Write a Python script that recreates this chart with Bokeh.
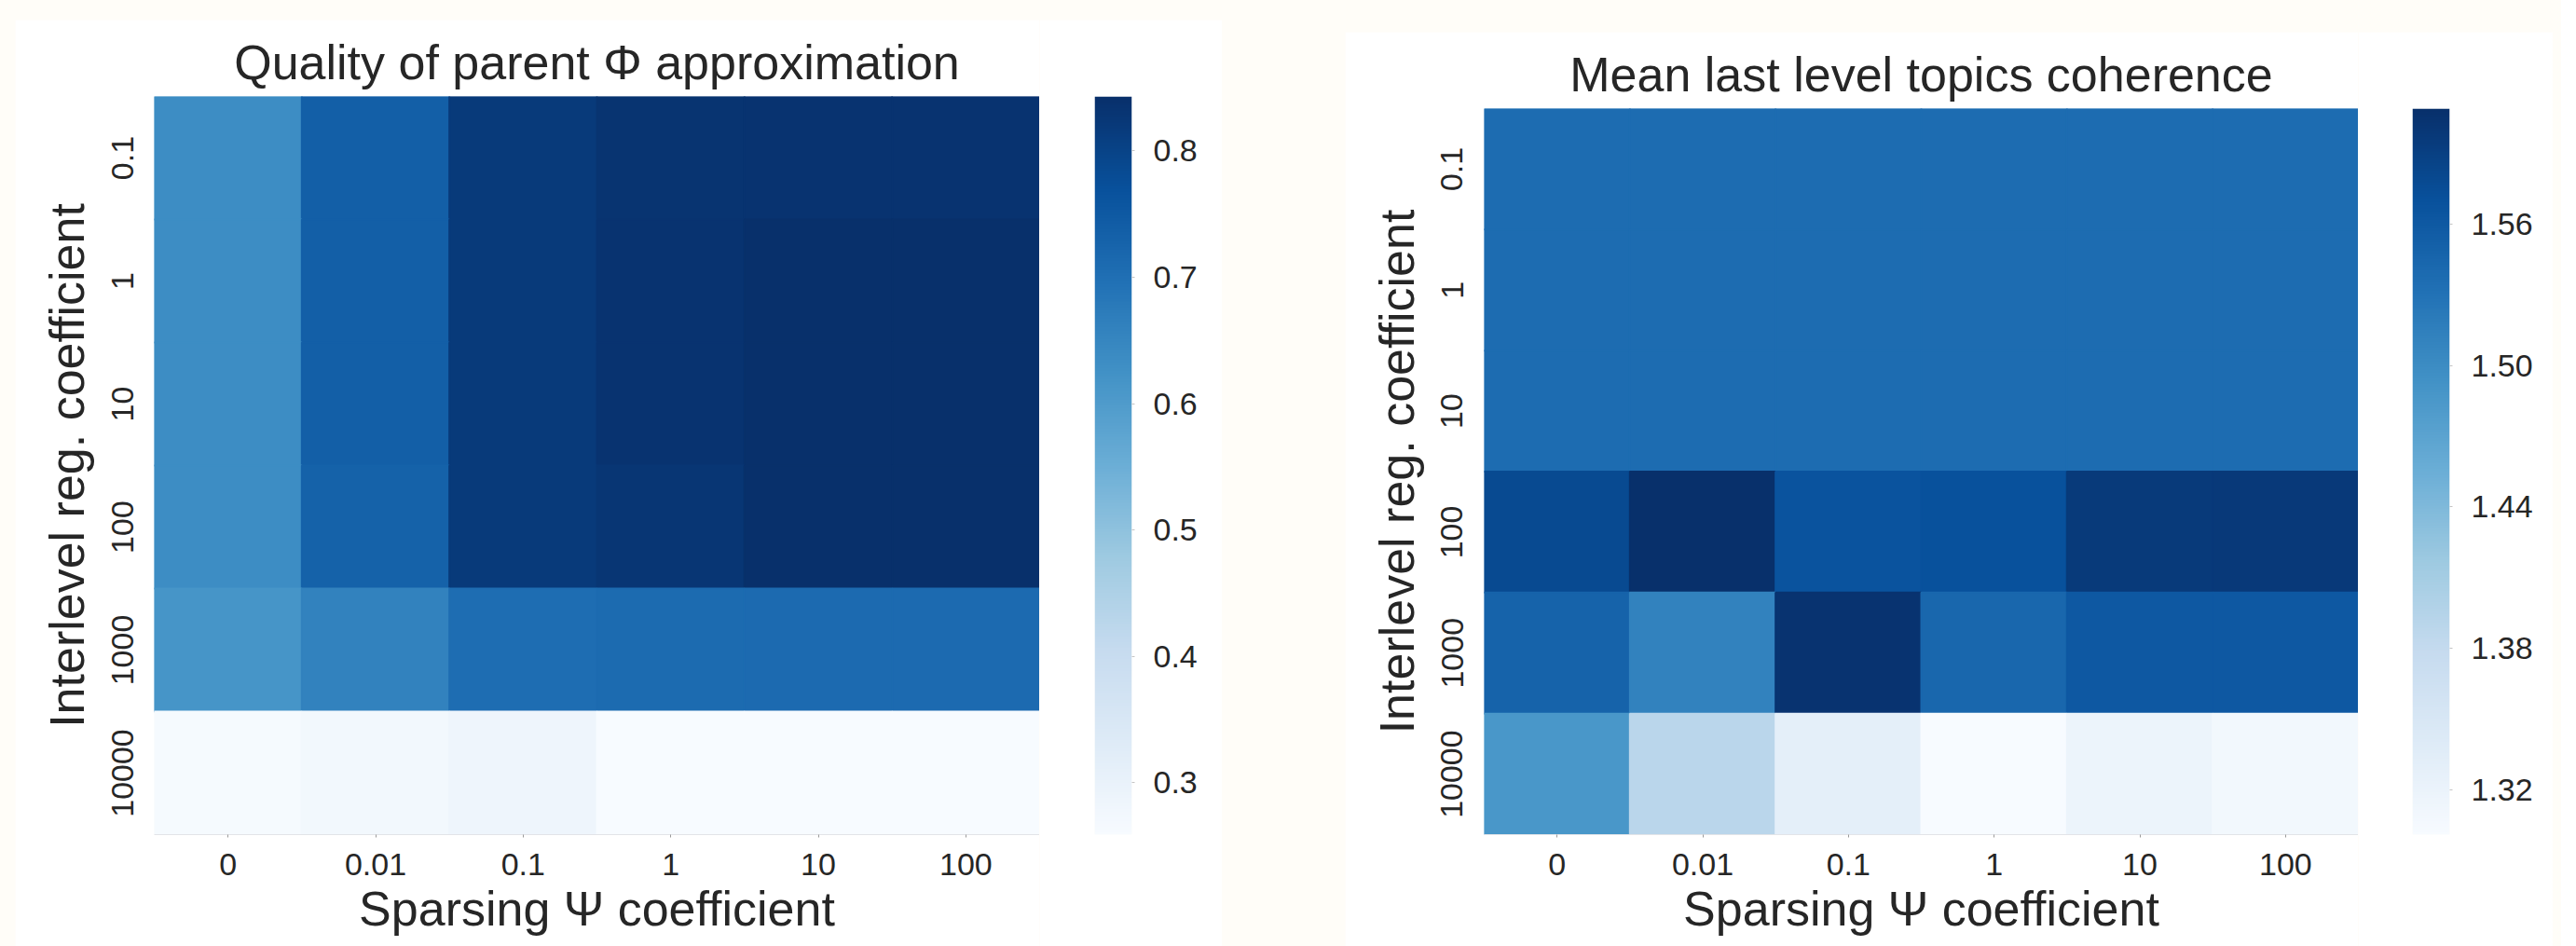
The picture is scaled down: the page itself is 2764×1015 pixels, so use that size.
import numpy as np
from bokeh.plotting import figure
from bokeh.models import (ColumnDataSource, LinearColorMapper, FixedTicker,
                          PrintfTickFormatter, Row, Range1d)
from bokeh.palettes import Blues256
from bokeh.embed import file_html
from bokeh.resources import INLINE

# ---------------- data ----------------
sparsing = ["0", "0.01", "0.1", "1", "10", "100"]
interlevel = ["0.1", "1", "10", "100", "1000", "10000"]

quality_r01 = [0.635, 0.736, 0.818, 0.833, 0.836, 0.836]
quality_r1 = [0.635, 0.736, 0.818, 0.835, 0.843, 0.843]
quality_r10 = [0.635, 0.737, 0.818, 0.835, 0.843, 0.843]
quality_r100 = [0.635, 0.730, 0.818, 0.829, 0.842, 0.842]
quality_r1000 = [0.617, 0.660, 0.706, 0.709, 0.711, 0.711]
quality_r10000 = [0.265, 0.274, 0.285, 0.261, 0.260, 0.259]

coher_r01 = [1.538, 1.538, 1.538, 1.538, 1.538, 1.538]
coher_r1 = [1.538, 1.538, 1.538, 1.538, 1.538, 1.538]
coher_r10 = [1.538, 1.538, 1.538, 1.538, 1.538, 1.538]
coher_r100 = [1.578, 1.609, 1.567, 1.570, 1.596, 1.597]
coher_r1000 = [1.548, 1.512, 1.605, 1.544, 1.561, 1.562]
coher_r10000 = [1.487, 1.390, 1.330, 1.301, 1.319, 1.309]

quality_ticks = [0.3, 0.4, 0.5, 0.6, 0.7, 0.8]
coher_ticks = [1.32, 1.38, 1.44, 1.50, 1.56]

quality = [quality_r01, quality_r1, quality_r10, quality_r100, quality_r1000, quality_r10000]
coherence = [coher_r01, coher_r1, coher_r10, coher_r100, coher_r1000, coher_r10000]

title_q = "Quality of parent \u03a6 approximation"
title_c = "Mean last level topics coherence"
xlabel = "Sparsing \u03a8 coefficient"
ylabel = "Interlevel reg. coefficient"

# ---------------- style ----------------
FONT = "Liberation Sans"
TXT = "#262626"


def _lum(h):
    return int(h[1:3], 16) + int(h[3:5], 16) + int(h[5:7], 16)


pal = list(Blues256)
if _lum(pal[0]) < _lum(pal[-1]):
    pal = pal[::-1]  # low value -> light colour


def panel(vals, title, ticks, fmt, fw, fh, bl, bt, bb, gap, cbr, top, left, right):
    xs, ys, vs = [], [], []
    for i, r in enumerate(interlevel):
        for j, c in enumerate(sparsing):
            xs.append(c)
            ys.append(r)
            vs.append(vals[i][j])
    src = ColumnDataSource(dict(x=xs, y=ys, v=vs))
    lo, hi = min(vs), max(vs)
    mapper = LinearColorMapper(palette=pal, low=lo, high=hi)
    p = figure(x_range=sparsing, y_range=interlevel[::-1],
               width=bl + fw, height=bt + fh + bb,
               min_border_left=bl, min_border_right=0,
               min_border_top=bt, min_border_bottom=bb,
               output_backend="svg", toolbar_location=None, title=title)
    p.margin = (top, 0, 0, left)
    p.rect(x="x", y="y", width=1, height=1, source=src,
           fill_color={"field": "v", "transform": mapper},
           line_color={"field": "v", "transform": mapper}, line_width=2)
    p.grid.visible = False
    p.outline_line_color = None
    p.background_fill_color = "white"
    p.border_fill_color = "white"

    p.title.text_font = FONT
    p.title.text_font_size = "52px"
    p.title.text_font_style = "normal"
    p.title.text_color = TXT
    p.title.align = "center"
    p.title.standoff = 15

    for ax in (p.xaxis[0], p.yaxis[0]):
        ax.axis_label_text_font = FONT
        ax.axis_label_text_font_size = "52px"
        ax.axis_label_text_font_style = "normal"
        ax.axis_label_text_color = TXT
        ax.major_label_text_font = FONT
        ax.major_label_text_font_size = "34px"
        ax.major_label_text_color = TXT
        ax.major_tick_in = 0
    xa = p.xaxis[0]
    xa.axis_label = xlabel
    xa.major_tick_out = 3
    xa.major_tick_line_color = "#999999"
    xa.axis_line_color = "#e2e4e8"
    xa.major_label_standoff = 17
    xa.axis_label_standoff = 4
    ya = p.yaxis[0]
    ya.axis_label = ylabel
    ya.major_tick_out = 0
    ya.major_tick_line_color = None
    ya.axis_line_color = None
    ya.major_label_orientation = "vertical"
    ya.major_label_standoff = 23
    ya.axis_label_standoff = 16

    # colour bar as its own small plot
    c = figure(x_range=Range1d(0, 1), y_range=Range1d(lo, hi),
               width=gap + 40 + cbr, height=bt + fh + bb,
               min_border_left=gap, min_border_right=cbr,
               min_border_top=bt, min_border_bottom=bb,
               x_axis_location=None, y_axis_location="right",
               output_backend="svg", toolbar_location=None)
    c.margin = (top, right, 0, 0)
    grad = np.linspace(lo, hi, 256).reshape(-1, 1)
    c.image(image=[grad], x=0, y=lo, dw=1, dh=hi - lo, color_mapper=mapper)
    c.grid.visible = False
    c.outline_line_color = None
    c.background_fill_color = "white"
    c.border_fill_color = "white"
    cy = c.yaxis[0]
    cy.ticker = FixedTicker(ticks=ticks)
    cy.formatter = PrintfTickFormatter(format=fmt)
    cy.axis_line_color = None
    cy.major_tick_in = 0
    cy.major_tick_out = 3
    cy.major_tick_line_color = "#c4c4c4"
    cy.minor_tick_line_color = None
    cy.major_label_standoff = 20
    cy.major_label_text_font = FONT
    cy.major_label_text_font_size = "34px"
    cy.major_label_text_color = TXT
    return [p, c]


left = panel(quality, title_q, quality_ticks, "%.1f", 950, 792, 149, 82, 120,
             59, 97, 21, 16, 0)
right = panel(coherence, title_c, coher_ticks, "%.2f", 938, 782, 149, 81, 118,
              58, 111, 34, 132, 9)

layout = Row(children=left + right, styles={"background-color": "#fffdf8"})

open("out.html", "w").write(file_html(layout, INLINE))
